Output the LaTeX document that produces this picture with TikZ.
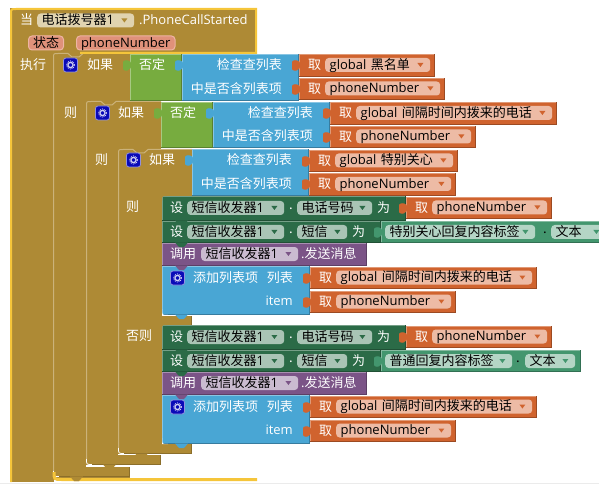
\documentclass[tikz,border=0pt]{standalone}
\usepackage{fontspec}
\setmainfont{Noto Sans CJK SC}
\newfontfamily\latfont{Open Sans}
\usepackage{tikz}

\definecolor{hatcol}{HTML}{AE8A35}
\definecolor{hatlight}{HTML}{CBB27A}
\definecolor{hatdark}{HTML}{8B6E2A}
\definecolor{goldline}{HTML}{F5C53A}
\definecolor{eventfield}{HTML}{E0D3B0}
\definecolor{pillcol}{HTML}{E0917A}
\definecolor{pilledge}{HTML}{EDB5A3}
\definecolor{notcol}{HTML}{77AC3F}
\definecolor{listcol}{HTML}{49A6D4}
\definecolor{getcol}{HTML}{D0632E}
\definecolor{getfield}{HTML}{EDBBA5}
\definecolor{setcol}{HTML}{2B6B47}
\definecolor{setfield}{HTML}{A9C4B5}
\definecolor{textcol}{HTML}{43966E}
\definecolor{textfield}{HTML}{B4D5C5}
\definecolor{callcol}{HTML}{7B5487}
\definecolor{callfield}{HTML}{CABBD0}
\definecolor{gearblue}{HTML}{0A0AB8}

\newcommand{\ltn}[1]{{\latfont #1}}

\tikzset{
  blocklabel/.style={text=white, inner sep=0pt, font=\fontsize{13}{15}\selectfont},
  fieldbox/.style={rounded corners=3.5pt, inner xsep=4.5pt, inner ysep=0pt, minimum height=14pt,
    text height=10.2pt, text depth=1.8pt, align=left, text=black, font=\fontsize{13}{15}\selectfont},
  pillbox/.style={fieldbox, fill=pillcol, draw=pilledge, line width=1pt, anchor=west},
}

% block with lit top and left edges, dark bottom and right edges
\newcommand{\bevel}[5]{
  \fill[#1] ({#2},{#3}) rectangle ({#4},{#5});
  \draw[#1!65!white] ({#2+.5},{#5}) -- ({#2+.5},{#3+.5}) -- ({#4},{#3+.5});
  \draw[#1!75!black] ({#2},{#5-.5}) -- ({#4-.5},{#5-.5}) -- ({#4-.5},{#3});
}
\newcommand{\blocktab}[3]{
  \fill[#1, rounded corners=1pt] ({#2+1},{#3+8}) -- ({#2-3},{#3+6}) -- ({#2-7},{#3+7}) -- ({#2-7},{#3+16}) -- ({#2-3},{#3+17}) -- ({#2+1},{#3+14}) -- cycle;
}
\newcommand{\bump}[3]{
  \fill[#1] ({#2},{#3-.5}) -- ({#2+4},{#3+4}) -- ({#2+9},{#3+4}) -- ({#2+13},{#3-.5}) -- cycle;
}
\newcommand{\corner}[5]{
  \fill[#1] ({#2},{#3}) -- ({#2+#4},{#3}) .. controls ({#2},{#3}) .. ({#2},{#3+#5}) -- cycle;
}
\newcommand{\dropfield}[7]{
  \node[fieldbox, fill=#2, text width={((#5)-(#4)-9)*1pt}, anchor=west] (#1) at ({#4},{#6}) {\hbox{#7}};
  \fill[#3] ([xshift=-13pt,yshift=2pt]#1.east) -- ++(6,0) -- ++(-3,4) -- cycle;
}
\newcommand{\getblock}[6]{
  \bevel{getcol}{#2}{#3}{#4}{#5}
  \blocktab{getcol}{#2}{#3}
  \node[blocklabel, anchor=west] (#1word) at ({#2+9},{(#3+#5)/2-.5}) {取};
  \dropfield{#1field}{getfield}{getcol}{#2+26}{#4-5}{(#3+#5)/2-.5}{#6}
}
\newcommand{\gearicon}[3]{
  \node[rounded corners=2.5pt, minimum size=14pt, inner sep=0pt, fill=gearblue, draw=gearblue!45!white, line width=.8pt] (#1) at (#2,#3) {};
  \draw[white!80!gearblue, line width=1.3pt] (#1) circle (2.6pt);
  \draw[white!80!gearblue, line width=.8pt, dash pattern=on .9pt off 1.1pt] (#1) circle (4.1pt);
}
% hat block: left, top, right, column width, band top, band bottom
\newcommand{\ifblock}[6]{
  \fill[hatcol] ({#1},{#2}) rectangle ({#1+#4},{#6});
  \fill[hatcol] ({#1},{#2}) rectangle ({#3},{#2+48});
  \fill[hatcol] ({#1},{#5}) rectangle ({#3},{#6});
  \draw[hatlight, line width=1pt] ({#1+.5},{#6-6}) -- ({#1+.5},{#2+5}) .. controls ({#1+.5},{#2+.5}) .. ({#1+5},{#2+.5}) -- ({#1+15},{#2+.5}) -- ({#1+19},{#2+4}) -- ({#1+26},{#2+4}) -- ({#1+30},{#2+.5}) -- ({#3},{#2+.5});
  \draw[white, line width=.8pt] ({#1+.5},{#6-6}) .. controls ({#1+.5},{#6-.5}) .. ({#1+6},{#6-.5});
  \draw[hatdark] ({#1+6},{#6-.5}) -- ({#3-.5},{#6-.5}) -- ({#3-.5},{#5});
  \bump{hatcol}{#1+17}{#6}
}
% one branch of the inner conditional
\newcommand{\smsbranch}[8]{
  \bevel{setcol}{162}{#2}{406}{#2+25}
  \bevel{setcol}{162}{#2+25}{381}{#2+47}
  \bevel{callcol}{162}{#2+47}{367}{#2+70}
  \bevel{listcol}{162}{#2+70}{310}{#2+119}
  \corner{hatcol}{162}{#2}{5}{5}
  \corner{white}{162}{#2+119}{6}{-6}
  \bump{setcol}{175}{#2+25}
  \bump{setcol}{175}{#2+47}
  \bump{callcol}{175}{#2+70}
  \bump{listcol}{175}{#2+119}
  \node[blocklabel, anchor=west] (#1seta) at (170,{#2+12}) {设};
  \dropfield{#1siga}{setfield}{setcol}{187}{284}{#2+12}{短信收发器\ltn{1}}
  \node[blocklabel] (#1dota) at (291,{#2+13}) {.};
  \dropfield{#1numfield}{setfield}{setcol}{297}{372}{#2+12}{电话号码}
  \node[blocklabel, anchor=west] (#1wei) at (377,{#2+12}) {为};
  \getblock{#1num}{406}{#2+1}{552}{#2+23}{\ltn{phoneNumber}}
  \node[blocklabel, anchor=west] (#1setb) at (170,{#2+36}) {设};
  \dropfield{#1sigb}{setfield}{setcol}{187}{284}{#2+36}{短信收发器\ltn{1}}
  \node[blocklabel] (#1dotb) at (291,{#2+37}) {.};
  \dropfield{#1msgfield}{setfield}{setcol}{297}{347}{#2+36}{短信}
  \node[blocklabel, anchor=west] (#1weib) at (352,{#2+36}) {为};
  \bevel{textcol}{381}{#2+25}{#8}{#2+47}
  \blocktab{textcol}{381}{#2+25}
  \dropfield{#1labelfield}{textfield}{textcol}{385}{#4}{#2+36}{#3}
  \node[blocklabel, text=black] (#1dotc) at (#5,{#2+37}) {.};
  \dropfield{#1textfield}{textfield}{textcol}{#6}{#7}{#2+36}{文本}
  \node[blocklabel, anchor=west] (#1call) at (170,{#2+58}) {调用};
  \dropfield{#1sigc}{callfield}{callcol}{201}{298}{#2+58}{短信收发器\ltn{1}}
  \node[blocklabel, anchor=west] (#1send) at (301,{#2+58}) {\ltn{.}发送消息};
  \gearicon{#1gear}{177.5}{#2+82}
  \node[blocklabel, anchor=west] (#1add) at (193,{#2+82}) {添加列表项};
  \node[blocklabel, anchor=east] (#1list) at (293,{#2+82}) {列表};
  \node[blocklabel, anchor=east] (#1item) at (293,{#2+105}) {\ltn{item}};
  \getblock{#1recent}{310}{#2+71}{537}{#2+93}{\ltn{global} 间隔时间内拨来的电话}
  \getblock{#1phone}{310}{#2+95}{456}{#2+117}{\ltn{phoneNumber}}
}

\begin{document}
\begin{tikzpicture}[x=1pt,y=-1pt]
  \useasboundingbox (0,0) rectangle (599,486);
  \clip (0,0) rectangle (599,486);
  \fill[black!8] (0,483) rectangle (599,484);

  % event block
  \fill[hatcol] (10,8) rectangle (257,53);
  \fill[hatcol] (10,53) rectangle (54,482);
  \fill[hatcol] (54,470) rectangle (130,479);
  \ifblock{53}{53}{130}{33}{467}{477}
  \ifblock{86}{101}{161}{32}{455}{465}
  \ifblock{118}{149}{192}{44}{444}{454}
  \fill[hatcol] (162,316) rectangle (192,325);
  \draw[hatdark] (191.5,316) -- (191.5,325);
  \draw[goldline, line width=2pt] (11,482) -- (11,14) .. controls (11,9) .. (16,9) -- (256,9) -- (256,53) -- (80,53);
  \draw[goldline, line width=3pt] (54,472) .. controls (54,479.5) .. (62,479.5) -- (257,479.5);
  \bump{hatcol}{70}{477}

  \node[blocklabel, anchor=west] (whenword) at (20,20) {当};
  \dropfield{phonefield}{eventfield}{hatcol}{37}{134}{20.5}{电话拨号器\ltn{1}}
  \node[blocklabel, anchor=west] (eventname) at (139,20) {\ltn{.PhoneCallStarted}};
  \node[pillbox, minimum width=35pt] (statepill) at (28,43) {状态};
  \node[pillbox] (numberpill) at (76,43) {\hbox{\ltn{phoneNumber}}};
  \node[blocklabel, anchor=west] (doword) at (20,65) {执行};

  % outer test
  \gearicon{gearone}{70.5}{65}
  \node[blocklabel, anchor=west] (ifone) at (87,65) {如果};
  \bevel{notcol}{130}{54}{182}{101}
  \blocktab{notcol}{130}{54}
  \node[blocklabel, anchor=west] (notone) at (139,65) {否定};
  \bevel{listcol}{182}{54}{299}{101}
  \blocktab{listcol}{182}{54}
  \node[blocklabel, anchor=east] (checkone) at (282,65) {检查查列表};
  \node[blocklabel, anchor=east] (itemone) at (282,89) {中是否含列表项};
  \getblock{black}{299}{54}{435}{77}{\ltn{global} 黑名单}
  \getblock{numone}{299}{78}{445}{100}{\ltn{phoneNumber}}
  \node[blocklabel, anchor=west] (thenone) at (64,113) {则};

  % second test
  \gearicon{geartwo}{102.5}{113}
  \node[blocklabel, anchor=west] (iftwo) at (118,113) {如果};
  \bevel{notcol}{161}{102}{213}{148}
  \blocktab{notcol}{161}{102}
  \node[blocklabel, anchor=west] (nottwo) at (170,113) {否定};
  \bevel{listcol}{213}{102}{330}{148}
  \blocktab{listcol}{213}{102}
  \node[blocklabel, anchor=east] (checktwo) at (313,113) {检查查列表};
  \node[blocklabel, anchor=east] (itemtwo) at (313,136) {中是否含列表项};
  \getblock{recent}{330}{102}{557}{125}{\ltn{global} 间隔时间内拨来的电话}
  \getblock{numtwo}{330}{126}{476}{148}{\ltn{phoneNumber}}
  \node[blocklabel, anchor=west] (thentwo) at (95,160) {则};

  % third test
  \gearicon{gearthree}{133.5}{160}
  \node[blocklabel, anchor=west] (ifthree) at (149,160) {如果};
  \bevel{listcol}{192}{149}{309}{196}
  \blocktab{listcol}{192}{149}
  \node[blocklabel, anchor=east] (checkthree) at (292,160) {检查查列表};
  \node[blocklabel, anchor=east] (itemthree) at (292,184) {中是否含列表项};
  \getblock{special}{309}{150}{458}{172}{\ltn{global} 特别关心}
  \getblock{numthree}{309}{173}{456}{196}{\ltn{phoneNumber}}

  \node[blocklabel, anchor=west] (thenthree) at (126,207) {则};
  \smsbranch{care}{196}{特别关心回复内容标签}{535}{545}{551}{606}{610}
  \node[blocklabel, anchor=west] (elsethree) at (126,336) {否则};
  \smsbranch{plain}{325}{普通回复内容标签}{512}{518}{525}{575}{581}
\end{tikzpicture}
\end{document}
